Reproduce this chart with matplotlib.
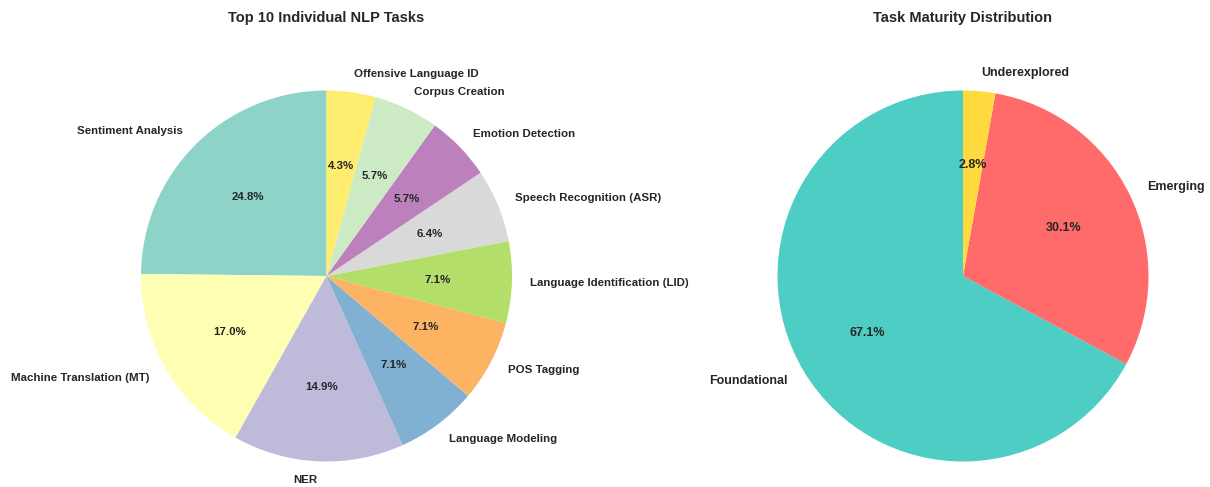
import matplotlib.pyplot as plt
import numpy as np

plt.rcParams['font.family'] = ['Liberation Sans', 'DejaVu Sans']
plt.rcParams['text.color'] = '#262626'

# left pie: paper counts per task
tasks = ['Sentiment Analysis', 'Machine Translation (MT)', 'NER', 'Language Modeling',
         'POS Tagging', 'Language Identification (LID)', 'Speech Recognition (ASR)',
         'Emotion Detection', 'Corpus Creation', 'Offensive Language ID']
task_counts = [35, 24, 21, 10, 10, 10, 9, 8, 8, 6]

# right pie: maturity groups
maturity = ['Foundational', 'Emerging', 'Underexplored']
maturity_counts = [96, 43, 4]
maturity_colors = ['#4ecdc4', '#ff6b6b', '#ffd93d']

W, H = 1210, 487
fig = plt.figure(figsize=(W / 100, H / 100), dpi=100)

def pie_axes(cx, cy, r):
    side = r * 2.5
    return fig.add_axes([(cx - side / 2) / W, (H - cy - side / 2) / H, side / W, side / H])

ax1 = pie_axes(326.5, 276, 185.5)
colors = plt.cm.Set3(np.linspace(0, 1, len(tasks)))
ax1.pie(task_counts, labels=tasks, colors=colors, autopct='%1.1f%%', startangle=90,
        textprops={'fontsize': 8.25, 'fontweight': 'bold'})
ax1.set_xlim(-1.25, 1.25)
ax1.set_ylim(-1.25, 1.25)
fig.text(326.5 / W, 1 - 18 / H, 'Top 10 Individual NLP Tasks', ha='center', va='center',
         fontsize=10.5, fontweight='bold')

ax2 = pie_axes(963, 276, 185.5)
ax2.pie(maturity_counts, labels=maturity, colors=maturity_colors, autopct='%1.1f%%',
        startangle=90, textprops={'fontsize': 9, 'fontweight': 'bold'})
ax2.set_xlim(-1.25, 1.25)
ax2.set_ylim(-1.25, 1.25)
fig.text(963 / W, 1 - 18 / H, 'Task Maturity Distribution', ha='center', va='center',
         fontsize=10.5, fontweight='bold')

fig.savefig('out.png', dpi=100)
